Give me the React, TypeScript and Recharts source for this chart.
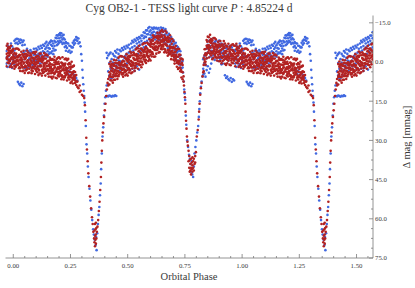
import { ScatterChart, Scatter, XAxis, YAxis } from "recharts";

// Cyg OB2-1 TESS light curve, folded on P = 4.85224 d.
// Rows are [phase, Δmag, Δmag, ...] in mmag.

const redQuiet1: number[][] = [
  [-0.030, -6.2, -1.3, 1.6, -3.1], [-0.025, 0.2, -4.9, -2.2, -7.0], [-0.020, 0.5, -4.3, -0.9, -5.8],
  [-0.015, 1.9, -3.4, -0.3, -5.3], [-0.010, -1.3, 1.4, -4.1, -6.2], [-0.005, 0.6, -1.8, -4.5, 2.0],
  [0.000, -2.8, 0.0, -5.0, -1.0], [0.005, 2.6, -3.4, 1.5, -1.7], [0.010, -5.1, 0.2, 1.9, -2.9],
  [0.015, -0.8, -5.2, 1.0, -1.8], [0.020, -1.7, 1.1, -5.1, -0.7], [0.025, -2.5, 2.4, 0.6, -4.7],
  [0.030, -0.9, 2.3, -2.6, 3.4], [0.035, 0.1, -3.9, 1.1, -1.7], [0.040, 3.5, -3.0, -0.3, 2.1],
  [0.045, -4.3, -2.2, 3.3, 0.6], [0.050, -3.0, 2.0, -1.1, 4.2], [0.055, -3.1, 1.8, -1.6, 3.2],
  [0.060, -4.4, 0.4, -2.3, 2.8], [0.065, -0.5, 4.2, 1.2, -3.6], [0.070, 2.6, 0.2, -2.5, 4.0],
  [0.075, -1.0, 1.8, -3.2, 0.8], [0.080, 4.3, -1.7, 3.2, 0.0], [0.085, -3.5, 1.8, 3.5, -1.4],
  [0.090, 0.6, -3.8, 2.4, -0.4], [0.095, -3.2, 1.6, 4.6, 0.2], [0.100, 3.3, -1.8, 0.9, -3.9],
  [0.105, 3.9, -1.0, 2.4, -2.4], [0.110, 5.0, -0.3, 2.8, -2.2], [0.115, 1.6, 4.4, -1.2, -3.2],
  [0.120, -3.2, -1.1, 4.4, 1.7], [0.125, -2.0, 3.0, 0.0, 5.2], [0.130, -2.1, 2.8, -0.6, 4.2],
  [0.135, -3.4, 1.4, -1.3, 3.8], [0.140, 0.6, 5.2, 2.4, -2.6], [0.145, 0.5, 3.3, -2.9, 1.5],
  [0.150, -0.3, 4.5, 2.8, -2.5], [0.155, 1.2, 4.4, -0.4, 5.6], [0.160, 2.3, -1.7, 3.3, 0.5],
  [0.165, 5.7, -0.8, 1.9, 4.3], [0.170, 3.8, -1.1, 6.3, 1.0], [0.175, 4.2, -0.8, 2.9, 5.6],
  [0.180, 0.2, -2.0, 4.6, 2.2], [0.185, -0.5, 6.0, 0.9, 3.7], [0.190, -1.2, 2.8, 6.2, 0.2],
  [0.195, 5.2, 2.0, -1.6, 3.7], [0.200, 5.5, 0.7, 2.6, -1.8], [0.205, 4.5, 1.6, -1.3, 3.6],
  [0.210, 6.6, 1.9, 5.3, 0.2], [0.215, 3.0, -1.8, 5.9, 1.1], [0.220, 6.7, 0.7, 5.6, 2.4],
  [0.225, -1.1, 4.2, 5.9, 1.1], [0.230, 3.1, -1.3, 4.9, 2.1], [0.235, -0.7, 4.2, 7.1, 2.4],
  [0.240, 6.0, 0.9, 3.6, -1.2], [0.245, 6.7, 1.9, 5.3, 0.4], [0.250, 8.0, 2.7, 5.8, 0.8],
  [0.255, 4.8, 7.5, 2.0, -0.1], [0.260, 6.8, 4.4, 1.7, 8.2], [0.265, 3.6, 6.4, 1.4, 5.4],
  [0.270, 8.0, 5.2, 3.8, 7.0], [0.275, 7.5, 5.0, 8.8],
];

// denser core of the red band, between the rows above
const redCore1: number[][] = [
  [-0.0275, -1.3, -1.7], [-0.0225, -3.4, -5.5], [-0.0175, -0.5, -2.6], [-0.0125, -4.3, -0.9],
  [-0.0075, -1.6, -3.5], [-0.0025, -4.2, 0.5], [0.0025, 0.3, -2.0], [0.0075, -1.5, -0.3],
  [0.0125, 1.4, -3.2], [0.0175, -2.2, -0.4], [0.0225, -0.2, -2.0], [0.0275, -2.8, 1.9],
  [0.0325, 0.4, -0.8], [0.0375, -1.0, 1.4], [0.0425, 2.0, -2.8], [0.0475, -1.8, 0.2],
  [0.0525, 1.4, -2.0], [0.0575, 0.0, 2.0], [0.0625, -2.8, -0.7], [0.0675, 1.0, 1.4],
  [0.0725, 1.4, 1.0], [0.0775, -0.5, -2.6], [0.0825, 2.4, 0.3], [0.0875, -1.6, 1.9],
  [0.0925, 0.9, -1.1], [0.0975, -1.9, 2.8], [0.1025, 2.4, 0.0], [0.1075, 0.4, 1.6],
  [0.1125, 3.2, -1.4], [0.1175, -0.5, 1.3], [0.1225, 1.4, -0.4], [0.1275, -1.2, 3.4],
  [0.1325, 1.9, 0.7], [0.1375, 0.4, 2.8], [0.1425, 3.3, -1.3], [0.1475, -0.2, 1.6],
  [0.1525, 2.9, -0.5], [0.1575, 1.5, 3.6], [0.1625, -1.1, 0.9], [0.1675, 2.7, 3.1],
  [0.1725, 3.2, 2.8], [0.1775, 1.2, -0.8], [0.1825, 4.1, 2.0], [0.1875, 0.2, 3.6],
  [0.1925, 2.6, 0.7], [0.1975, -0.1, 4.6], [0.2025, 4.1, 1.8], [0.2075, 2.2, 3.4],
  [0.2125, 5.1, 0.4], [0.2175, 1.3, 3.1], [0.2225, 3.2, 1.4], [0.2275, 0.6, 5.3],
  [0.2325, 3.8, 2.6], [0.2375, 2.5, 4.8], [0.2425, 5.5, 0.8], [0.2475, 1.9, 3.8],
  [0.2525, 5.1, 1.7], [0.2575, 3.9, 6.0], [0.2625, 1.6, 3.7], [0.2675, 5.9, 6.3],
];

const redPrimary: number[][] = [
  [0.280, 7.5, 9.5], [0.285, 10.0], [0.290, 9.0, 11.5], [0.295, 11.0], [0.300, 12.5],
  [0.305, 13.0], [0.310, 13.8], [0.313, 16.5], [0.316, 22.3], [0.319, 29.0],
  [0.322, 33.5], [0.325, 38.0], [0.328, 42.6], [0.332, 47.5], [0.336, 51.5],
  [0.340, 56.0], [0.344, 59.4], [0.347, 62.0], [0.350, 65.0], [0.353, 67.5],
  [0.355, 64.5, 69.0], [0.357, 62.0, 66.5, 70.5], [0.359, 64.0, 68.0],
  [0.361, 61.5, 66.0, 69.5], [0.363, 63.5, 67.5], [0.365, 65.0],
  [0.368, 63.0], [0.371, 60.5], [0.374, 57.0], [0.377, 53.5], [0.380, 49.0],
  [0.383, 44.0], [0.385, 38.5], [0.387, 34.0], [0.389, 30.0], [0.391, 27.0],
  [0.394, 23.5], [0.397, 21.0], [0.400, 18.5], [0.403, 16.0], [0.406, 13.0],
  [0.409, 10.5], [0.412, 8.0], [0.415, 6.5, 9.0],
];

const redQuiet2: number[][] = [
  [0.420, 0.8, 5.7, 8.6, 3.9], [0.425, 7.0, 1.8, 4.6, -0.2], [0.430, 7.1, 2.3, 5.7, 0.8],
  [0.435, 7.9, 2.6, 5.7, 0.7], [0.440, 4.1, 6.8, 1.3, -0.8], [0.445, 5.4, 3.0, 0.3, 6.8],
  [0.450, 1.5, 4.3, -0.7, 3.3], [0.455, 6.5, 0.5, 5.4, 2.2], [0.460, -1.6, 3.7, 5.4, 0.6],
  [0.465, 2.3, -2.1, 4.1, 1.3], [0.470, 1.1, 3.9, -2.3, 2.1], [0.475, 0.0, 4.8, 3.1, -2.1],
  [0.480, 1.3, 4.5, -0.4, 5.6], [0.485, -2.0, 3.0, -0.2, 3.9], [0.490, 5.1, -1.4, 1.3, 3.7],
  [0.495, -3.0, -0.9, 4.6, 1.9], [0.500, -2.0, 3.0, -0.1, 5.2], [0.505, -2.4, 2.5, -0.9, 4.0],
  [0.510, -4.0, 0.8, -1.9, 3.2], [0.515, -0.4, 4.3, 1.4, -3.5], [0.520, 2.5, 0.1, -2.6, 3.9],
  [0.525, -1.5, 1.3, -3.7, 0.3], [0.530, 3.4, -2.6, 2.3, -0.9], [0.535, -4.8, 0.5, 2.2, -2.6],
  [0.540, -1.0, -5.4, 0.8, -2.0], [0.545, -5.2, -0.3, 2.6, -2.1], [0.550, 1.0, -4.1, -1.4, -6.2],
  [0.555, 1.2, -3.6, -0.2, -5.1], [0.560, 2.0, -3.3, -0.2, -5.2], [0.565, -1.8, 0.9, -4.6, -6.7],
  [0.570, -3.8, -1.0, -7.2, -2.8], [0.575, -5.0, -0.2, -1.9, -7.2], [0.580, -3.9, -0.7, -5.6, 0.4],
  [0.585, -3.4, -7.4, -2.4, -5.2], [0.590, -0.4, -6.9, -4.2, -1.8], [0.595, -8.7, -6.6, -1.1, -3.8],
  [0.600, -7.8, -2.8, -5.9, -0.6], [0.605, -8.4, -3.5, -6.9, -2.1], [0.610, -10.2, -5.4, -8.1, -3.0],
  [0.615, -6.7, -2.0, -4.9, -9.8], [0.620, -4.6, -9.5, -2.1, -7.4], [0.625, -4.6, -9.6, -5.9, -3.2],
  [0.630, -9.1, -11.2, -4.7, -7.1], [0.635, -10.1, -3.6, -8.7, -5.9], [0.640, -11.2, -7.2, -3.8, -9.8],
  [0.645, -5.0, -8.2, -11.8, -6.5], [0.650, -4.9, -9.7, -7.8, -12.2], [0.655, -5.9, -8.7, -11.6, -6.7],
  [0.660, -3.7, -8.4, -5.0, -10.1], [0.665, -7.1, -11.9, -4.2, -9.0], [0.670, -11.2, -9.1, -3.6, -6.3],
  [0.675, -9.6, -4.6, -7.7, -2.4], [0.680, -9.3, -4.4, -7.8, -3.0], [0.685, -10.2, -5.4, -8.1, -3.0],
  [0.690, -5.8, -1.1, -4.0, -8.9], [0.695, -5.4, -2.6, -8.8, -4.4], [0.700, -5.7, -0.9, -2.6, -7.9],
  [0.705, -3.7, -0.5, -5.4, 0.6], [0.710, -2.2, -6.2, -1.2, -4.0], [0.715, 1.8, -4.7, -2.0, 0.4],
  [0.720, -5.1, -0.2, 2.7, -2.0], [0.725, 2.2, -2.9, -0.2, -5.0], [0.730, 3.5, -1.3, 2.1, -2.8],
  [0.735, 5.9, 0.6, 3.7, -1.3], [0.740, 3.9, 6.6, 1.1, -1.0], [0.744, 5.5, 7.5],
];

const redCore2: number[][] = [
  [0.4225, 5.6, 5.2], [0.4275, 3.3, 1.2], [0.4325, 5.7, 3.6], [0.4375, 1.4, 4.8],
  [0.4425, 3.4, 1.5], [0.4475, 0.4, 5.1], [0.4525, 4.4, 2.1], [0.4575, 2.2, 3.4],
  [0.4625, 4.8, 0.1], [0.4675, 0.8, 2.6], [0.4725, 2.4, 0.6], [0.4775, -0.4, 4.3],
  [0.4825, 2.5, 1.3], [0.4875, 0.8, 3.1], [0.4925, 3.4, -1.3], [0.4975, -0.6, 1.3],
  [0.5025, 2.2, -1.2], [0.5075, 0.5, 2.6], [0.5125, -2.5, -0.4], [0.5175, 1.0, 1.4],
  [0.5225, 1.2, 0.8], [0.5275, -1.2, -3.2], [0.5325, 1.4, -0.8], [0.5375, -3.0, 0.5],
  [0.5425, -1.0, -2.8], [0.5475, -4.1, 0.7], [0.5525, -0.2, -2.5], [0.5575, -2.5, -1.3],
  [0.5625, 0.0, -4.7], [0.5675, -4.1, -2.3], [0.5725, -2.6, -4.4], [0.5775, -5.6, -0.9],
  [0.5825, -2.8, -4.0], [0.5875, -4.7, -2.4], [0.5925, -2.2, -6.9], [0.5975, -6.4, -4.5],
  [0.6025, -3.9, -7.3], [0.6075, -5.8, -3.7], [0.6125, -9.0, -6.9], [0.6175, -5.6, -5.2],
  [0.6225, -5.5, -5.9], [0.6275, -7.9, -10.0], [0.6325, -5.4, -7.5], [0.6375, -9.6, -6.2],
  [0.6425, -7.5, -9.4], [0.6475, -10.4, -5.7], [0.6525, -6.1, -8.4], [0.6575, -7.9, -6.7],
  [0.6625, -4.9, -9.6], [0.6675, -8.4, -6.6], [0.6725, -6.2, -8.0], [0.6775, -8.4, -3.7],
  [0.6825, -4.8, -6.0], [0.6875, -5.7, -3.4], [0.6925, -2.3, -7.0], [0.6975, -5.5, -3.6],
  [0.7025, -1.9, -5.3], [0.7075, -2.8, -0.7], [0.7125, -4.9, -2.8], [0.7175, -0.5, -0.1],
  [0.7225, 0.7, 0.3], [0.7275, -0.5, -2.6], [0.7325, 3.0, 0.9], [0.7375, 0.3, 3.7],
];

const redSecondary: number[][] = [
  [0.746, 9.0], [0.748, 11.5], [0.750, 13.5], [0.752, 16.0], [0.753, 19.0],
  [0.755, 22.5], [0.757, 25.5], [0.759, 28.5], [0.761, 30.5], [0.763, 32.0],
  [0.766, 34.0, 38.0], [0.769, 36.0, 40.5], [0.771, 37.5, 42.0], [0.774, 39.0, 41.5],
  [0.777, 37.0, 40.5, 43.0], [0.780, 38.5, 41.0], [0.783, 36.5, 39.5, 42.0],
  [0.786, 38.0, 40.5], [0.789, 37.0, 41.5], [0.792, 39.0], [0.795, 36.0, 38.5],
  [0.798, 34.5], [0.802, 28.5], [0.806, 26.0], [0.810, 22.0], [0.812, 19.0],
  [0.814, 16.0], [0.817, 12.5], [0.820, 10.0], [0.823, 8.0], [0.827, 5.5], [0.830, 4.0],
];

const redQuiet3: number[][] = [
  [0.832, 3.5, 1.1, -1.6], [0.836, -2.7, 0.1, -4.9, -0.9], [0.840, 1.0, -5.0, -0.1, -3.3],
  [0.845, -8.4, -3.1, -1.4, -6.2], [0.850, -5.3, -9.7, -3.5, -6.3], [0.855, -9.5, -4.6, -1.7, -6.4],
  [0.860, -3.2, -8.3, -5.6, -10.4], [0.865, -2.5, -7.3, -3.9, -8.8], [0.870, -1.1, -6.4, -3.3, -8.3],
  [0.875, -4.3, -1.6, -7.1, -9.2], [0.880, -5.8, -3.0, -9.2, -4.8], [0.885, -6.5, -1.7, -3.4, -8.7],
  [0.890, -4.9, -1.7, -6.6, -0.6], [0.895, -3.8, -7.8, -2.8, -5.6], [0.900, -0.3, -6.8, -4.1, -1.7],
  [0.905, -8.0, -5.9, -0.4, -3.1], [0.910, -6.7, -1.7, -4.8, 0.5], [0.915, -6.7, -1.8, -5.2, -0.4],
  [0.920, -8.0, -3.2, -5.9, -0.8], [0.925, -4.0, 0.7, -2.2, -7.1], [0.930, -1.4, -6.3, 1.1, -4.2],
  [0.935, -0.9, -5.9, -2.2, 0.5], [0.940, -4.9, -7.0, -0.5, -2.9], [0.945, -5.5, 1.0, -4.1, -1.3],
  [0.950, -6.2, -2.2, 1.2, -4.8], [0.955, 0.2, -3.0, -6.6, -1.3], [0.960, 0.5, -4.3, -2.4, -6.8],
  [0.965, -0.5, -3.3, -6.2, -1.3],
];

const redCore3: number[][] = [
  [0.8425, -2.5, -2.9], [0.8475, -5.7, -7.8], [0.8525, -3.6, -5.7], [0.8575, -7.8, -4.4],
  [0.8625, -5.5, -7.4], [0.8675, -8.0, -3.4], [0.8725, -3.6, -5.9], [0.8775, -5.3, -4.1],
  [0.8825, -2.3, -7.0], [0.8875, -5.9, -4.1], [0.8925, -3.9, -5.7], [0.8975, -6.4, -1.7],
  [0.9025, -3.2, -4.4], [0.9075, -4.5, -2.2], [0.9125, -1.6, -6.2], [0.9175, -5.2, -3.3],
  [0.9225, -2.1, -5.4], [0.9275, -3.4, -1.3], [0.9325, -6.0, -4.0], [0.9375, -2.2, -1.8],
  [0.9425, -1.6, -2.0], [0.9475, -3.6, -5.7], [0.9525, -0.6, -2.8], [0.9575, -4.6, -1.1],
  [0.9625, -2.1, -4.0],
];

const blueQuiet1: number[][] = [
  [-0.030, -4.2, 0.6, -1.8], [-0.025, -6.3, -0.9, 1.9], [-0.020, -2.2, -5.1, 0.3],
  [-0.015, -5.6, 1.4, -3.3], [-0.010, -7.1, -1.2, 0.8], [-0.005, -3.8, 2.3, -6.0],
  [0.000, -5.2, -0.4, -2.7], [0.005, -8.1, 1.1, -4.4], [0.010, -8.6, -2.3, -7.2],
  [0.015, -7.4, -0.6, -8.9], [0.020, -8.8, 7.6, -6.9], [0.025, -7.9, 8.3, -2.1],
  [0.030, -7.3, 8.9, -8.6], [0.035, -8.4, 7.9, -0.8], [0.040, -7.6, 9.3, -6.4],
  [0.045, -8.2, 8.4, -3.6], [0.050, -6.6, -1.1, 2.4], [0.055, -4.3, 1.6, -2.6],
  [0.060, -2.4, 0.2, -5.1], [0.065, -4.1, 2.1, -0.7], [0.070, -1.4, -3.6, 1.3],
  [0.075, -4.6, 0.9, -2.3], [0.080, -1.9, 2.3, -3.9], [0.085, -3.4, -0.6, 1.2],
  [0.090, -0.9, -5.1, -2.8], [0.095, -3.9, 1.6, -1.3], [0.100, -2.6, -0.4, -5.2],
  [0.105, -4.6, 2.1, -1.9], [0.110, -3.1, -0.9, -5.8], [0.115, -5.1, 0.6, -2.4],
  [0.120, -3.6, -1.4, -6.2], [0.125, -5.4, -2.6, 0.2], [0.130, -4.1, -6.6, -1.3],
  [0.135, -6.1, -2.1, -3.7], [0.140, -3.4, -7.1, -5.0], [0.145, -5.6, -2.4, -7.7],
  [0.150, -6.4, -4.1, -2.0], [0.155, -7.1, -3.1, -5.3], [0.160, -5.1, -7.6, -3.6],
  [0.165, -6.6, -3.4, -8.2], [0.170, -4.1, -6.1, -7.9], [0.175, -7.1, -5.2, -3.0],
  [0.180, -6.1, -8.1, -4.4], [0.185, -7.6, -4.6, -9.3], [0.190, -9.1, -6.4, -10.2],
  [0.195, -10.1, -7.9, -6.8], [0.200, -9.1, -10.6, -7.4], [0.205, -10.2, -8.1, -11.1],
  [0.210, -9.4, -11.0, -7.6], [0.215, -8.6, -10.1, -6.9], [0.220, -9.1, -7.4, -10.4],
  [0.225, -7.1, -8.6, -5.7], [0.230, -6.1, -7.6, -4.3], [0.235, -5.4, 3.1, -7.2],
  [0.240, -7.1, 4.6, -3.9], [0.245, -4.4, 3.4, -6.2], [0.250, -6.1, 5.1, -3.5],
  [0.255, -3.9, 4.1, -5.6], [0.260, -5.6, 6.1, -7.4], [0.265, -6.6, 4.9, -8.1],
  [0.270, -8.6, 5.6, -7.2], [0.275, -9.6, 6.1, -8.3], [0.280, -8.1, 7.1, -9.2],
  [0.285, -9.0, -7.1], [0.290, -7.5], [0.294, -6.0], [0.297, -3.0], [0.300, -0.5],
  [0.302, 3.0], [0.304, 6.0], [0.306, 8.5], [0.308, 11.0], [0.310, 13.0], [0.312, 15.5],
];

const bluePrimary: number[][] = [
  [0.314, 19.0], [0.317, 24.5], [0.320, 31.5], [0.323, 35.0], [0.326, 40.0],
  [0.329, 44.0], [0.333, 48.5], [0.337, 53.0], [0.341, 56.5], [0.345, 60.5],
  [0.349, 64.0], [0.352, 66.0], [0.356, 68.0], [0.360, 70.0], [0.362, 67.0],
  [0.364, 72.0], [0.367, 65.5], [0.370, 62.0], [0.373, 58.5], [0.376, 55.5],
  [0.379, 51.0], [0.382, 46.5], [0.384, 41.0], [0.387, 35.0], [0.390, 28.5],
  [0.393, 25.0], [0.396, 20.5], [0.399, 16.0], [0.402, 13.5], [0.405, 11.0],
  [0.408, 9.0, -3.5], [0.410, 13.0, -1.5], [0.415, 13.2], [0.420, 12.8],
  [0.425, 13.0], [0.430, 13.3], [0.435, 12.9], [0.440, 13.1], [0.445, 12.7], [0.450, 13.0],
];

const blueQuiet2: number[][] = [
  [0.415, 8.5, -2.5, 3.6], [0.420, 5.1, 0.4, -3.1], [0.425, 2.6, -3.6, 6.4],
  [0.430, 6.1, -1.1, 1.8], [0.435, 3.4, -3.1, 0.2], [0.440, 1.1, 5.1, -2.4],
  [0.445, -2.1, 3.1, -4.2], [0.450, 0.6, -3.6, 2.2], [0.455, 2.4, -1.6, -4.8],
  [0.460, -3.1, 1.1, -0.6], [0.465, -0.4, 3.4, -4.6], [0.470, -4.1, 0.1, 2.1],
  [0.475, -2.1, 2.6, -5.3], [0.480, -4.6, -0.6, 1.4], [0.485, -1.6, 1.6, -5.8],
  [0.490, -5.1, -2.4, 0.9], [0.495, -3.1, 0.6, -6.2], [0.500, -5.6, -1.4, 2.4],
  [0.505, -3.6, -6.6, 0.1], [0.510, -5.1, -2.1, 3.1], [0.515, -7.1, -3.9, 1.4],
  [0.520, -5.6, 2.6, -8.1], [0.525, -7.6, -4.4, 0.6], [0.530, -6.1, 3.4, -8.6],
  [0.535, -8.1, -5.1, 1.6], [0.540, -7.1, 1.6, -9.2], [0.545, -8.6, -5.9, -3.1],
  [0.550, -7.6, 2.9, -9.6], [0.555, -9.1, -6.6, -4.1], [0.560, -8.1, -5.1, -10.1],
  [0.565, -10.1, -7.1, -4.6], [0.570, -9.1, -5.6, -11.4], [0.575, -11.1, -7.6, -9.7],
  [0.580, -9.6, -6.1, -12.1], [0.585, -12.1, -8.1, -10.6], [0.590, -10.6, -7.1, -13.0],
  [0.595, -13.4, -9.1, -11.6], [0.600, -12.1, -8.1, -10.3], [0.605, -11.1, -13.1, -9.4],
  [0.610, -12.6, -9.6, -11.3], [0.615, -11.6, -13.2, -10.2], [0.620, -12.8, -10.1, -8.6],
  [0.625, -11.1, -13.1, -9.7], [0.630, -12.6, -9.1, -11.4], [0.635, -13.0, -10.6, -8.2],
  [0.640, -12.1, -8.6, -10.9], [0.645, -13.2, -10.1, -11.6], [0.650, -12.6, -8.1, -10.4],
  [0.655, -11.6, -13.0, -9.1], [0.660, -12.1, -7.6, -10.3], [0.665, -10.6, -12.6, -8.4],
  [0.670, -9.1, -11.6, -6.7], [0.675, -7.6, -10.1, -5.4], [0.680, -8.6, -5.1, -10.8],
  [0.685, -6.6, -9.1, -3.9], [0.690, -7.6, -4.1, -9.6], [0.695, -5.6, -8.1, -2.6],
  [0.700, -6.6, -3.1, -8.4], [0.705, -4.6, -7.1, -1.6], [0.710, -5.1, -2.1, -7.4],
  [0.715, -3.6, -6.1, -0.4], [0.720, -4.1, -0.6, -5.6], [0.725, -2.1, -4.6, 0.9],
  [0.730, -2.6, 1.1, -4.1], [0.735, 0.1, -1.1, 2.4], [0.740, 2.1, -0.4],
];

const blueSecondary: number[][] = [
  [0.742, 4.0], [0.745, 7.5], [0.747, 10.5], [0.749, 12.0], [0.751, 14.5],
  [0.754, 20.5], [0.756, 24.0], [0.760, 30.0], [0.764, 32.5], [0.768, 35.5],
  [0.772, 37.0], [0.775, 39.0], [0.778, 42.0], [0.780, 38.0], [0.782, 43.0],
  [0.786, 44.0], [0.789, 40.0], [0.792, 35.0], [0.796, 32.5], [0.800, 30.0],
  [0.804, 27.0], [0.808, 24.5], [0.811, 21.0], [0.813, 18.0], [0.815, 15.0],
  [0.817, 12.0], [0.820, 9.5], [0.823, 7.5], [0.827, 5.5],
];

const blueQuiet3: number[][] = [
  [0.830, 2.6, -1.1, 4.9], [0.835, 4.4, 0.6, -2.3], [0.840, 5.6, -3.1, 1.2],
  [0.845, 3.1, -5.1, -1.4], [0.850, 1.6, -6.6, -3.7], [0.855, 4.1, -8.1, -5.2],
  [0.860, -2.1, -6.1, 2.6], [0.865, 0.6, -8.6, -4.3], [0.870, -4.1, -7.1, -1.6],
  [0.875, -2.6, -9.1, -5.4], [0.880, -5.6, -7.6, -0.8], [0.885, -3.6, -8.1, -6.1],
  [0.890, -6.1, -1.6, -3.8], [0.895, -4.1, -7.6, -0.4], [0.900, -2.1, -5.6, -8.2],
  [0.905, -6.6, -1.1, -3.7], [0.910, -3.6, -7.1, 0.9], [0.915, -5.1, 0.6, -2.4],
  [0.920, -2.6, -6.6, -4.2], [0.925, 5.1, -4.1, -1.2], [0.930, 6.1, -1.6, -5.3],
  [0.935, 5.6, -5.1, -2.7], [0.940, 6.6, -2.6, -0.6], [0.945, 7.1, -6.1, -3.4],
  [0.950, 6.1, -3.1, -5.8], [0.955, 7.6, -5.6, -1.3], [0.960, 6.6, -2.1, -4.6],
  [0.965, 7.1, -4.6, -0.9],
];

const xMajor = [0, 0.25, 0.5, 0.75, 1.0, 1.25, 1.5];
const xMinor = [
  0.05, 0.1, 0.15, 0.2, 0.3, 0.35, 0.4, 0.45, 0.55, 0.6, 0.65, 0.7, 0.8, 0.85, 0.9, 0.95,
  1.05, 1.1, 1.15, 1.2, 1.3, 1.35, 1.4, 1.45, 1.55,
];
const yMajor = [-15, 0, 15, 30, 45, 60, 75];
const yMinor = [
  -11.25, -7.5, -3.75, 3.75, 7.5, 11.25, 18.75, 22.5, 26.25, 33.75, 37.5, 41.25,
  48.75, 52.5, 56.25, 63.75, 67.5, 71.25,
];

const RED = "#b22222";
const BLUE = "#4169e1";
const SPINE = "#7a7a7a";
const INK = "#3a3a3a";
const FONT = "'Liberation Serif', 'DejaVu Serif', serif";
const X_END = 1.572;

type Pt = { x: number; y: number };

const toPoints = (rows: number[][]): Pt[] =>
  rows.flatMap(([p, ...ms]) => ms.map((m) => ({ x: p, y: m })));

// the folded curve is shown over ~1.6 cycles, so the early phases repeat one cycle later
const fold = (pts: Pt[]): Pt[] => [
  ...pts,
  ...pts.filter((d) => d.x + 1 < X_END).map((d) => ({ x: d.x + 1, y: d.y })),
];

const redPts = fold(
  toPoints([
    ...redQuiet1, ...redCore1, ...redPrimary, ...redQuiet2, ...redCore2,
    ...redSecondary, ...redQuiet3, ...redCore3,
  ]),
);
const bluePts = fold(toPoints([...blueQuiet1, ...bluePrimary, ...blueQuiet2, ...blueSecondary, ...blueQuiet3]));

const isMajor = (v: number, majors: number[]) => majors.some((m) => Math.abs(m - v) < 1e-6);
const fmtY = (v: number) => (v < 0 ? "\u2212" + Math.abs(v).toFixed(1) : v.toFixed(1));

function BottomTick({ x, y, payload }: any) {
  const major = isMajor(payload.value, xMajor);
  return (
    <g>
      <line x1={x} y1={y} x2={x} y2={y - (major ? 4 : 2)} stroke={SPINE} strokeWidth={0.8} />
      {major && (
        <text x={x} y={y + 9.5} textAnchor="middle" fontSize={6.8} fill={INK} fontFamily={FONT}>
          {payload.value.toFixed(2)}
        </text>
      )}
    </g>
  );
}

function TopTick({ x, y, payload }: any) {
  const major = isMajor(payload.value, xMajor);
  return <line x1={x} y1={y} x2={x} y2={y + (major ? 4 : 2)} stroke={SPINE} strokeWidth={0.8} />;
}

function RightTick({ x, y, payload }: any) {
  const major = isMajor(payload.value, yMajor);
  return (
    <g>
      <line x1={x} y1={y} x2={x - (major ? 4 : 2)} y2={y} stroke={SPINE} strokeWidth={0.8} />
      {major && (
        <text x={x + 2} y={y + 2.3} textAnchor="start" fontSize={6.8} fill={INK} fontFamily={FONT}>
          {fmtY(payload.value)}
        </text>
      )}
    </g>
  );
}

function LeftTick({ x, y, payload }: any) {
  const major = isMajor(payload.value, yMajor);
  return <line x1={x} y1={y} x2={x + (major ? 4 : 2)} y2={y} stroke={SPINE} strokeWidth={0.8} />;
}

const dot = (color: string) => (p: any) => <circle cx={p.cx} cy={p.cy} r={1.3} fill={color} />;

export default function App() {
  const xTicks = [...xMajor, ...xMinor].sort((a, b) => a - b);
  const yTicks = [...yMajor, ...yMinor].sort((a, b) => a - b);
  const xDomain = [-0.034, X_END];
  const yDomain = [-17.8, 75];
  return (
    <div style={{ position: "absolute", left: 0, top: 0, width: 415, height: 288, background: "#fff" }}>
      <ScatterChart width={415} height={288} margin={{ top: 15.5, right: 0, bottom: 0, left: 5.5 }}>
        <XAxis
          xAxisId="b"
          type="number"
          dataKey="x"
          domain={xDomain}
          allowDataOverflow
          ticks={xTicks}
          interval={0}
          tickSize={0}
          tickMargin={0}
          tickLine={false}
          tick={BottomTick}
          axisLine={{ stroke: SPINE, strokeWidth: 0.8 }}
          height={30}
        />
        <XAxis
          xAxisId="t"
          orientation="top"
          type="number"
          dataKey="x"
          domain={xDomain}
          allowDataOverflow
          ticks={xTicks}
          interval={0}
          tickSize={0}
          tickMargin={0}
          tickLine={false}
          tick={TopTick}
          axisLine={{ stroke: SPINE, strokeWidth: 0.8 }}
          height={0}
        />
        <YAxis
          yAxisId="r"
          orientation="right"
          type="number"
          dataKey="y"
          domain={yDomain}
          reversed
          allowDataOverflow
          ticks={yTicks}
          interval={0}
          tickSize={0}
          tickMargin={0}
          tickLine={false}
          tick={RightTick}
          axisLine={{ stroke: SPINE, strokeWidth: 0.8 }}
          width={42}
        />
        <YAxis
          yAxisId="l"
          orientation="left"
          type="number"
          dataKey="y"
          domain={yDomain}
          reversed
          allowDataOverflow
          ticks={yTicks}
          interval={0}
          tickSize={0}
          tickMargin={0}
          tickLine={false}
          tick={LeftTick}
          axisLine={{ stroke: SPINE, strokeWidth: 0.8 }}
          width={0}
        />
        <Scatter data={bluePts} xAxisId="b" yAxisId="r" shape={dot(BLUE)} isAnimationActive={false} />
        <Scatter data={redPts} xAxisId="b" yAxisId="r" shape={dot(RED)} isAnimationActive={false} />
      </ScatterChart>
      <svg width={415} height={288} style={{ position: "absolute", left: 0, top: 0, pointerEvents: "none" }}>
        <text x={189} y={11.5} textAnchor="middle" fontSize={11.5} fill={INK} fontFamily={FONT}>
          Cyg OB2-1 - TESS light curve <tspan fontStyle="italic">P</tspan> : 4.85224 d
        </text>
        <text x={189} y={280} textAnchor="middle" fontSize={10.5} fill={INK} fontFamily={FONT}>
          Orbital Phase
        </text>
        <text
          x={406}
          y={137}
          textAnchor="middle"
          dominantBaseline="central"
          fontSize={10.5}
          fill={INK}
          fontFamily={FONT}
          transform="rotate(-90 406 137)"
        >
          Δ mag [mmag]
        </text>
      </svg>
    </div>
  );
}
